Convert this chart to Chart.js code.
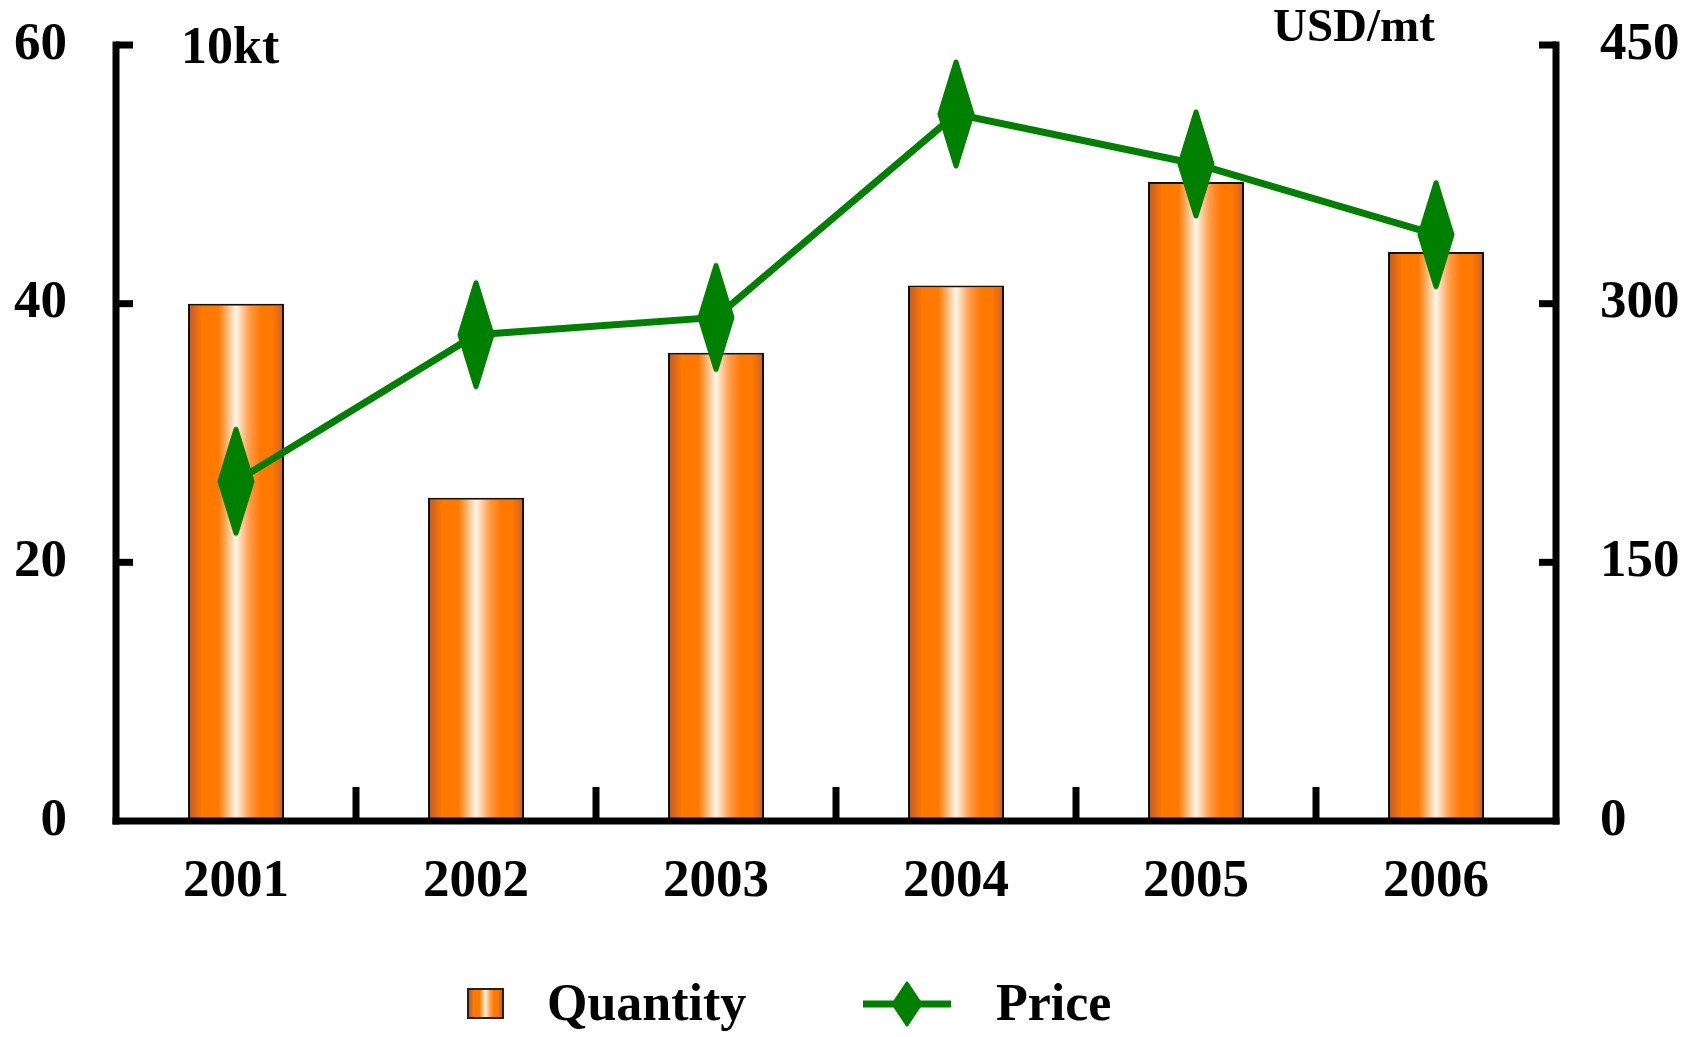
<!DOCTYPE html>
<html>
<head>
<meta charset="utf-8">
<script src="https://cdn.jsdelivr.net/npm/chart.js@4.4.0/dist/chart.umd.min.js"></script>
<style>
body{margin:0;background:#fff;}
#wrap{position:relative;width:1697px;height:1037px;font-family:"Liberation Serif","Times New Roman",serif;font-weight:bold;color:#000;}
#chart{position:absolute;left:0;top:0;}
.lg{position:absolute;font-size:52px;line-height:52px;white-space:nowrap;}
#qbox{position:absolute;left:467px;top:988px;width:33px;height:27px;border:2px solid #222;
 background:linear-gradient(to right,#b85a30 0%,#ff7800 14%,#ff7a00 32%,#fff6ea 50%,#ff9c48 64%,#ff7800 76%,#ff7800 88%,#cc6020 100%);}
#pline{position:absolute;left:863px;top:981px;}
</style>
</head>
<body>
<div id="wrap">
<canvas id="chart" width="1697" height="1037"></canvas>
<div id="qbox"></div>
<div class="lg" style="left:547px;top:977px;">Quantity</div>
<svg id="pline" width="88" height="46" viewBox="0 0 88 46">
 <line x1="0" y1="23" x2="88" y2="23" stroke="#008000" stroke-width="7"/>
 <polygon points="44,2 58,23 44,44 30,23" fill="#008000" stroke="#008000" stroke-width="3" stroke-linejoin="round"/>
</svg>
<div class="lg" style="left:996px;top:977px;">Price</div>
</div>
<script>
var years = ['2001', '2002', '2003', '2004', '2005', '2006'];
var quantity = [40, 25, 36.2, 41.4, 49.4, 44];     // 10kt
var price = [197, 282, 292, 410, 381, 340];         // USD/mt
var qtyTicks = [0, 20, 40, 60];
var priceTicks = [0, 150, 300, 450];

var FONT = '"Liberation Serif", "Times New Roman", serif';
var GREEN = '#008000';

// tall diamond used as point marker
function diamond(){
	var cv = document.createElement('canvas');
	cv.width = 40; cv.height = 112;
	var g = cv.getContext('2d');
	g.fillStyle = GREEN; g.strokeStyle = GREEN;
	g.lineWidth = 5; g.lineJoin = 'round';
	g.beginPath();
	g.moveTo(20, 4); g.lineTo(36, 56); g.lineTo(20, 108); g.lineTo(4, 56);
	g.closePath();
	g.fill(); g.stroke();
	return cv;
}

function barFill(context){
	var chart = context.chart;
	var xs = chart.scales.x;
	if(!chart.chartArea || !xs) return '#ff7a00';
	var cx = xs.getPixelForTick(context.dataIndex);
	var half = xs.width / years.length * 0.4 / 2;
	var gr = chart.ctx.createLinearGradient(cx - half, 0, cx + half, 0);
	gr.addColorStop(0, '#b85a30');
	gr.addColorStop(0.14, '#ff7800');
	gr.addColorStop(0.32, '#ff7a00');
	gr.addColorStop(0.5, '#fff6ea');
	gr.addColorStop(0.64, '#ff9c48');
	gr.addColorStop(0.76, '#ff7800');
	gr.addColorStop(0.88, '#ff7800');
	gr.addColorStop(1, '#cc6020');
	return gr;
}

function line(c, x1, y1, x2, y2){
	c.beginPath(); c.moveTo(x1, y1); c.lineTo(x2, y2); c.stroke();
}

var axesPlugin = {
	id: 'axes',
	afterDraw: function(chart){
		var c = chart.ctx, a = chart.chartArea;
		var xs = chart.scales.x, ys = chart.scales.y, ys1 = chart.scales.y1;
		c.save();
		c.strokeStyle = '#000';
		c.lineWidth = 7;
		c.lineCap = 'butt';
		var top = ys.getPixelForValue(qtyTicks[qtyTicks.length - 1]);
		line(c, a.left, top - 3.5, a.left, a.bottom + 3.5);
		line(c, a.right, top - 3.5, a.right, a.bottom + 3.5);
		line(c, a.left - 3.5, a.bottom, a.right + 3.5, a.bottom);
		for(var i = 1; i < qtyTicks.length; i++){
			var py = ys.getPixelForValue(qtyTicks[i]);
			line(c, a.left, py, a.left + 17, py);
		}
		for(var j = 1; j < priceTicks.length; j++){
			var py1 = ys1.getPixelForValue(priceTicks[j]);
			line(c, a.right - 17, py1, a.right, py1);
		}
		for(var k = 1; k < years.length; k++){
			var px = (xs.getPixelForTick(k - 1) + xs.getPixelForTick(k)) / 2;
			line(c, px, a.bottom - 34, px, a.bottom);
		}
		c.fillStyle = '#000';
		c.textBaseline = 'alphabetic';
		c.textAlign = 'left';
		c.font = 'bold 52px ' + FONT;
		c.fillText('10kt', 181, 63);
		c.font = 'bold 47px ' + FONT;
		c.fillText('USD/mt', 1273, 41);
		c.restore();
	}
};

var tickFont = {family: FONT, size: 53, weight: 'bold'};

// fixed axis box; drop the extra room chart.js keeps for the end labels
function fixY(w){
	return function(s){
		s.width = w;
		s.paddingTop = 0;
		s.paddingBottom = 0;
	};
}

new Chart(document.getElementById('chart').getContext('2d'), {
	data: {
		labels: years,
		datasets: [{
			type: 'line',
			label: 'Price',
			data: price,
			yAxisID: 'y1',
			order: 0,
			borderColor: GREEN,
			backgroundColor: GREEN,
			borderWidth: 7,
			fill: false,
			tension: 0,
			pointStyle: diamond(),
			pointRadius: 20,
			pointHoverRadius: 20
		}, {
			type: 'bar',
			label: 'Quantity',
			data: quantity,
			yAxisID: 'y',
			order: 1,
			backgroundColor: barFill,
			borderColor: '#111',
			borderWidth: 2,
			barPercentage: 0.4,
			categoryPercentage: 1
		}]
	},
	options: {
		responsive: false,
		animation: false,
		layout: {padding: {top: 45, left: 0, right: 0, bottom: 0}},
		plugins: {legend: {display: false}, tooltip: {enabled: false}},
		scales: {
			x: {
				type: 'category',
				grid: {display: false, drawTicks: false},
				border: {display: false},
				ticks: {font: tickFont, color: '#000', padding: 30, maxRotation: 0},
				afterFit: function(s){ s.height = 216; }
			},
			y: {
				position: 'left',
				min: qtyTicks[0],
				max: qtyTicks[qtyTicks.length - 1],
				grid: {display: false, drawTicks: false},
				border: {display: false},
				ticks: {stepSize: qtyTicks[1] - qtyTicks[0], font: tickFont, color: '#000', padding: 49},
				afterFit: fixY(116)
			},
			y1: {
				position: 'right',
				min: priceTicks[0],
				max: priceTicks[priceTicks.length - 1],
				grid: {display: false, drawTicks: false},
				border: {display: false},
				ticks: {stepSize: priceTicks[1] - priceTicks[0], font: tickFont, color: '#000', padding: 44},
				afterFit: fixY(141)
			}
		}
	},
	plugins: [axesPlugin]
});
</script>
</body>
</html>
